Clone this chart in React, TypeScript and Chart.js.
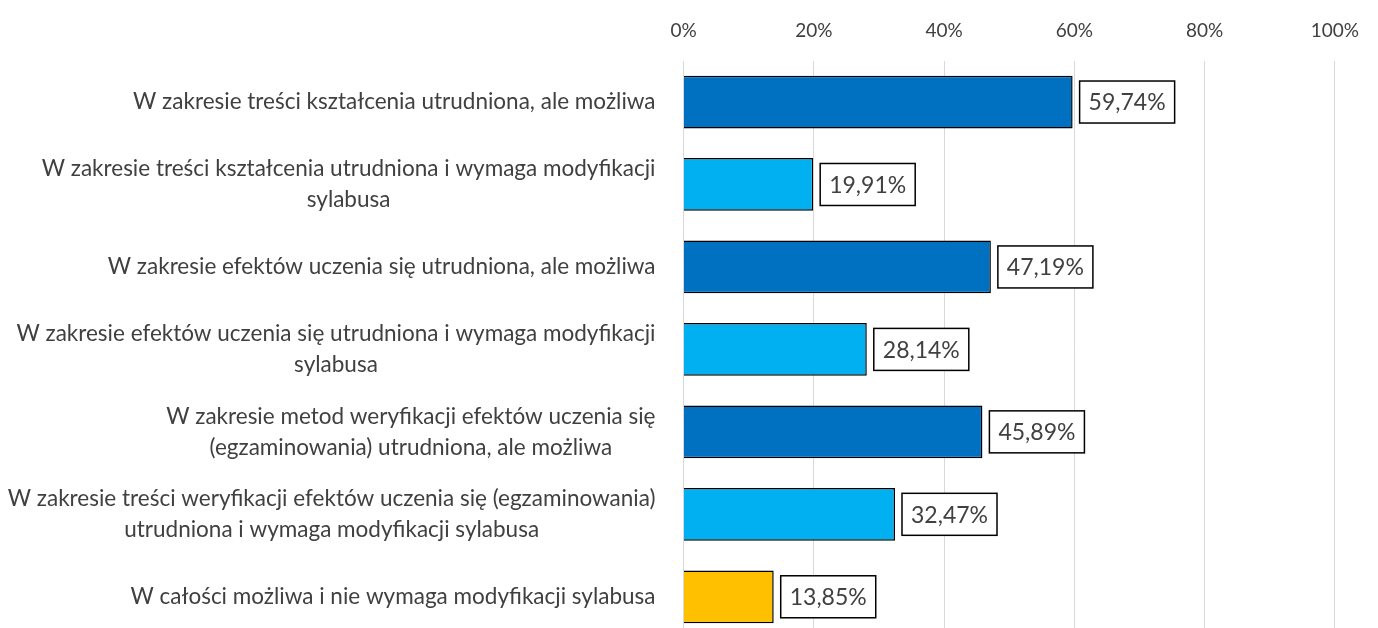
import React, { useEffect, useRef } from 'react';
import { Chart, registerables } from 'chart.js';

Chart.register(...registerables);

const categories: string[][] = [
  ['W zakresie treści kształcenia utrudniona, ale możliwa'],
  ['W zakresie treści kształcenia utrudniona i wymaga modyfikacji', 'sylabusa'],
  ['W zakresie efektów uczenia się utrudniona, ale możliwa'],
  ['W zakresie efektów uczenia się utrudniona i wymaga modyfikacji', 'sylabusa'],
  ['W zakresie metod weryfikacji efektów uczenia się', '(egzaminowania) utrudniona, ale możliwa'],
  ['W zakresie treści weryfikacji efektów uczenia się (egzaminowania)', 'utrudniona i wymaga modyfikacji sylabusa'],
  ['W całości możliwa i nie wymaga modyfikacji sylabusa'],
];

const values: number[] = [59.74, 19.91, 47.19, 28.14, 45.89, 32.47, 13.85];

const barColors: string[] = ['#0070C0', '#00B0F0', '#0070C0', '#00B0F0', '#0070C0', '#00B0F0', '#FFC000'];

const xTickValues: number[] = [0, 20, 40, 60, 80, 100];

const FONT = 'Lato';
const TEXT_COLOR = '#404040';

const categoryLabelPlugin = {
  id: 'categoryLabels',
  afterDraw(chart: any) {
    const ctx = chart.ctx as CanvasRenderingContext2D;
    const yScale = chart.scales.y;
    const rightEdge = chart.chartArea.left - 28;
    ctx.save();
    ctx.font = `22.5px ${FONT}`;
    ctx.fillStyle = TEXT_COLOR;
    ctx.textAlign = 'center';
    ctx.textBaseline = 'middle';
    const lh = 31;
    categories.forEach((lines, i) => {
      const cy = yScale.getPixelForValue(i);
      const w = Math.max(...lines.map((l) => ctx.measureText(l).width));
      const cx = rightEdge - w / 2;
      lines.forEach((line, j) => {
        const y = cy + (j - (lines.length - 1) / 2) * lh;
        ctx.fillText(line, cx, y);
      });
    });
    ctx.restore();
  },
};

const dataLabelPlugin = {
  id: 'boxedDataLabels',
  afterDatasetsDraw(chart: any) {
    const ctx = chart.ctx as CanvasRenderingContext2D;
    const meta = chart.getDatasetMeta(0);
    ctx.save();
    ctx.font = `23px ${FONT}`;
    ctx.textBaseline = 'middle';
    ctx.textAlign = 'center';
    meta.data.forEach((el: any, i: number) => {
      const text = values[i].toFixed(2).replace('.', ',') + '%';
      const tw = ctx.measureText(text).width;
      const bw = tw + 18;
      const bh = 42;
      const left = el.x + 7;
      const top = el.y - bh / 2;
      ctx.fillStyle = '#FFFFFF';
      ctx.fillRect(left, top, bw, bh);
      ctx.strokeStyle = '#000000';
      ctx.lineWidth = 1.5;
      ctx.strokeRect(left, top, bw, bh);
      ctx.fillStyle = TEXT_COLOR;
      ctx.fillText(text, left + bw / 2, el.y + 1);
    });
    ctx.restore();
  },
};

export default function App() {
  const canvasRef = useRef<HTMLCanvasElement | null>(null);

  useEffect(() => {
    if (!canvasRef.current) return;
    const chart = new Chart(canvasRef.current, {
      type: 'bar',
      data: {
        labels: categories.map((c) => c.join(' ')),
        datasets: [
          {
            data: values,
            backgroundColor: barColors,
            borderColor: '#000000',
            borderWidth: 1.5,
            barPercentage: 0.64,
            categoryPercentage: 1,
          },
        ],
      },
      options: {
        indexAxis: 'y',
        responsive: false,
        animation: false,
        layout: { padding: { left: 683.5, right: 41, top: 0, bottom: 2 } },
        plugins: {
          legend: { display: false },
          tooltip: { enabled: false },
        },
        scales: {
          x: {
            position: 'top',
            min: 0,
            max: 100,
            afterBuildTicks: (axis: any) => {
              axis.ticks = xTickValues.map((v) => ({ value: v }));
            },
            ticks: {
              callback: (v: any) => `${v}%`,
              color: TEXT_COLOR,
              font: { family: FONT, size: 19 },
              padding: 19,
              maxRotation: 0,
            },
            grid: { color: '#D9D9D9', lineWidth: 1, drawTicks: false },
            border: { display: false },
          },
          y: {
            display: false,
            offset: true,
            grid: { display: false },
          },
        },
      },
      plugins: [categoryLabelPlugin, dataLabelPlugin],
    });
    return () => chart.destroy();
  }, []);

  return (
    <div style={{ position: 'fixed', left: 0, top: 0, width: 1378, height: 640, background: '#fff' }}>
      <canvas ref={canvasRef} width={1378} height={640} style={{ display: 'block' }} />
    </div>
  );
}
